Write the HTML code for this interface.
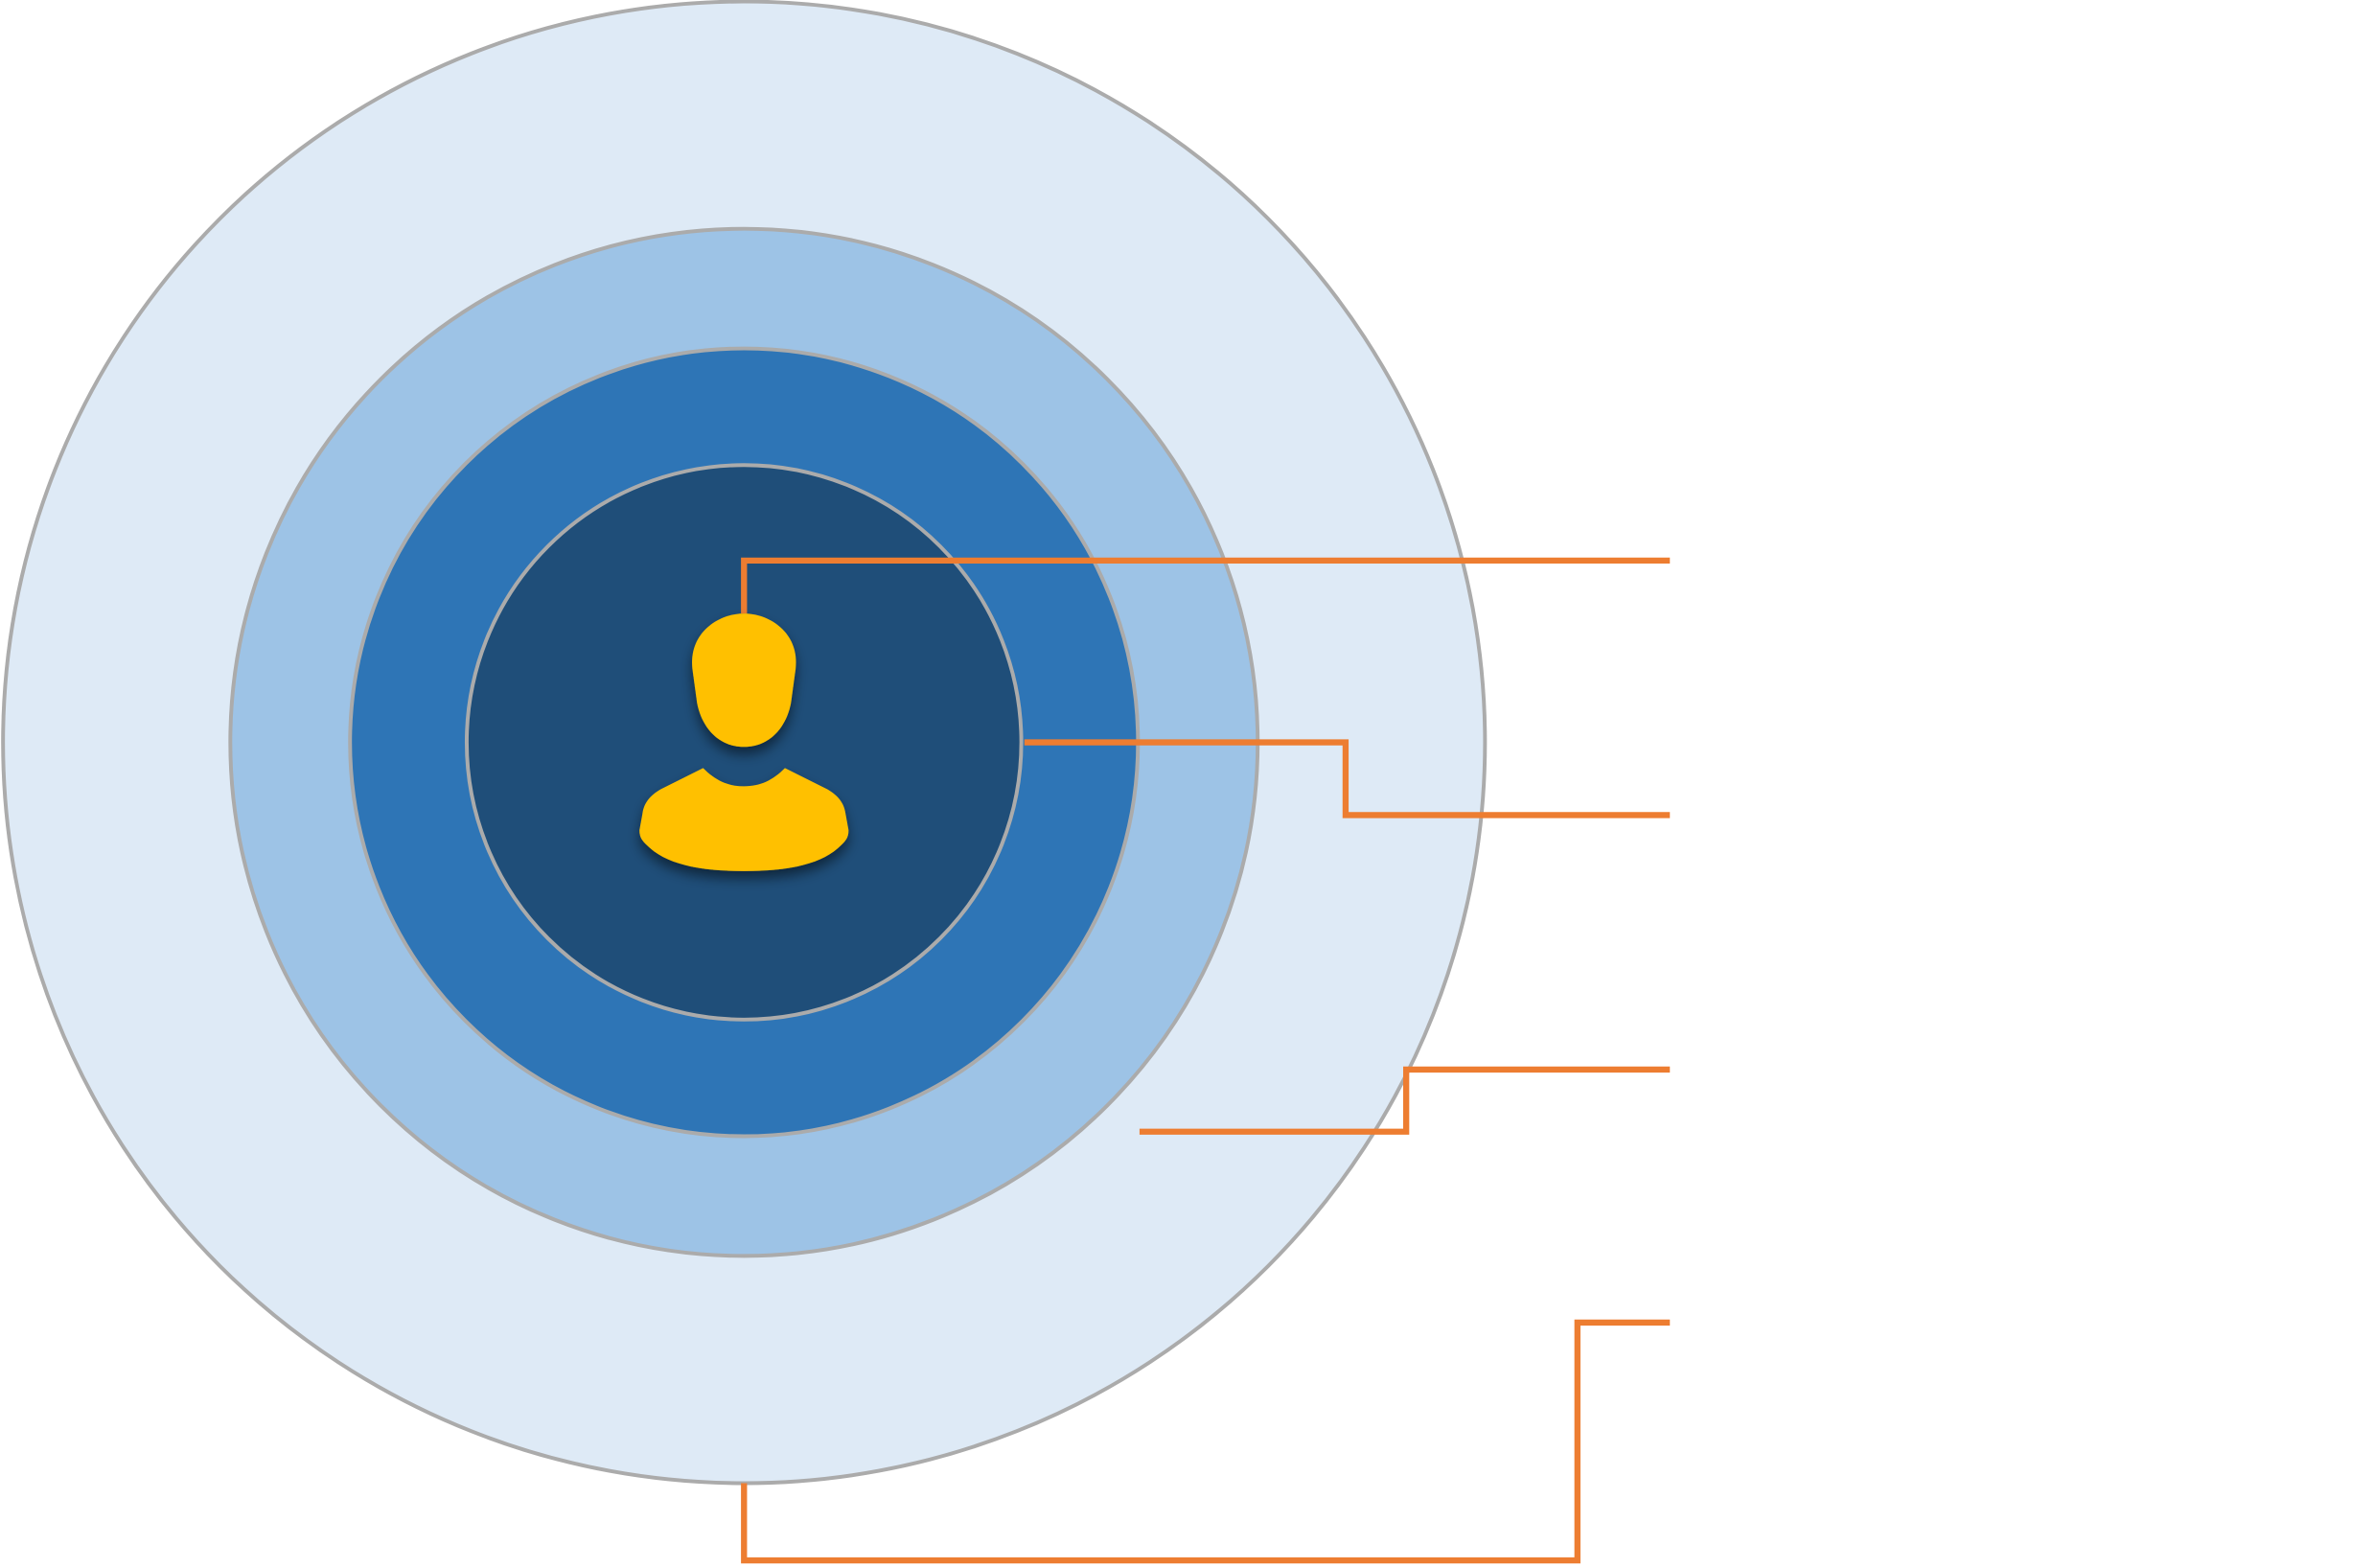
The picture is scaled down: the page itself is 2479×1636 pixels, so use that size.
<!DOCTYPE html>
<html><head><meta charset="utf-8"><style>html,body{margin:0;padding:0;background:#fff;width:2479px;height:1636px;overflow:hidden}svg{display:block}</style></head>
<body>
<svg width="2479" height="1636" viewBox="0 0 1568 1035" preserveAspectRatio="none" xmlns="http://www.w3.org/2000/svg">
<defs>
<filter id="sh" x="-30%" y="-30%" width="160%" height="160%"><feDropShadow dx="0" dy="5" stdDeviation="4" flood-color="#000" flood-opacity="0.5"/></filter>
</defs>
<circle cx="491" cy="490" r="489" fill="#DEEAF6" stroke="#ABABAB" stroke-width="2.5"/>
<circle cx="491" cy="490" r="339" fill="#9DC3E6" stroke="#ABABAB" stroke-width="2.5"/>
<circle cx="491" cy="490" r="260" fill="#2E75B6" stroke="#ABABAB" stroke-width="2.5"/>
<circle cx="491" cy="490" r="183" fill="#1F4E79" stroke="#ABABAB" stroke-width="2.5"/>
<g fill="none" stroke="#ED7D31" stroke-width="4">
<polyline points="491,405 491,370 1102,370"/>
<polyline points="676,490 888,490 888,538 1102,538"/>
<polyline points="752,747 928,747 928,706 1102,706"/>
<polyline points="491,979 491,1030 1041,1030 1041,873 1102,873"/>
</g>
<g fill="#FFC000" filter="url(#sh)">
<path d="M491,405 C508,405 528,418 525,442 L522,464 C519,480 508,493 491,493 C474,493 463,480 460,464 L457,442 C454,418 474,405 491,405 Z"/>
<path d="M464,507 C472,515 480,519 491,519 C502,519 510,515 518,507 L546,521 C553,525 557,530 558,537 L560,548 C560,553 558,555 555,558 C543,570 522,575 491,575 C460,575 439,570 427,558 C424,555 422,553 422,548 L424,537 C425,530 429,525 436,521 Z"/>
</g>
</svg>
</body></html>
